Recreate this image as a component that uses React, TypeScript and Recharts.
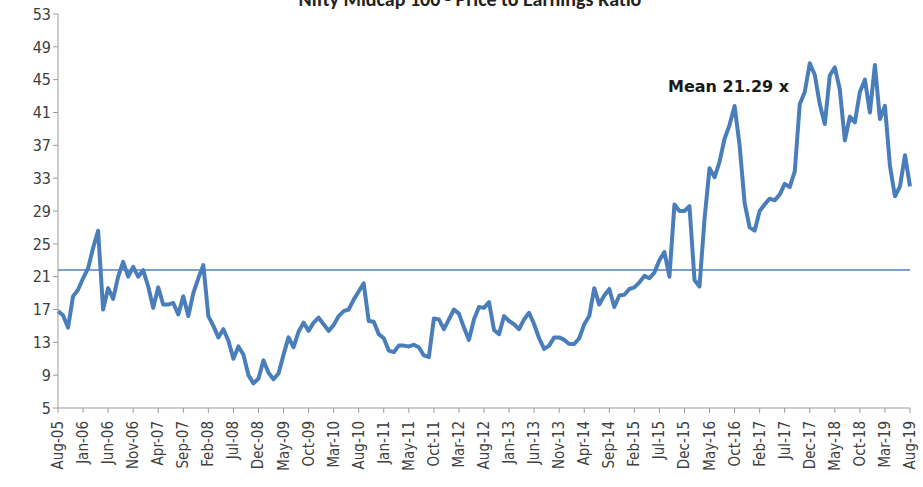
import { Line, LineChart, ReferenceLine, XAxis, YAxis } from "recharts";

// tick labels on the category axis, one every 5 points
const monthLabels = [
  "Aug-05", "Jan-06", "Jun-06", "Nov-06", "Apr-07", "Sep-07", "Feb-08", "Jul-08",
  "Dec-08", "May-09", "Oct-09", "Mar-10", "Aug-10", "Jan-11", "May-11", "Oct-11",
  "Mar-12", "Aug-12", "Jan-13", "Jun-13", "Nov-13", "Apr-14", "Sep-14", "Feb-15",
  "Jul-15", "Dec-15", "May-16", "Oct-16", "Feb-17", "Jul-17", "Dec-17", "May-18",
  "Oct-18", "Mar-19", "Aug-19",
];

// P/E values, evenly spaced between the month ticks
const peValues = [
  16.8, 16.3, 14.8, 18.6, 19.4, 20.8, 22.0, 24.5, 26.6, 17.0,
  19.6, 18.3, 21.0, 22.8, 21.0, 22.2, 21.0, 21.8, 19.8, 17.2,
  19.7, 17.6, 17.6, 17.8, 16.4, 18.6, 16.2, 19.0, 20.8, 22.4,
  16.2, 15.0, 13.6, 14.6, 13.2, 11.0, 12.5, 11.5, 9.0, 8.0,
  8.6, 10.8, 9.3, 8.5, 9.2, 11.5, 13.6, 12.4, 14.3, 15.4,
  14.4, 15.4, 16.0, 15.2, 14.4, 15.1, 16.2, 16.8, 17.0, 18.2,
  19.2, 20.2, 15.6, 15.5, 14.0, 13.5, 12.0, 11.8, 12.6, 12.6,
  12.5, 12.7, 12.4, 11.4, 11.2, 15.9, 15.8, 14.6, 15.8, 17.0,
  16.5, 14.8, 13.3, 15.8, 17.3, 17.2, 17.9, 14.5, 14.0, 16.2,
  15.6, 15.2, 14.6, 15.8, 16.6, 15.2, 13.5, 12.2, 12.6, 13.6,
  13.6, 13.3, 12.8, 12.8, 13.5, 15.2, 16.2, 19.6, 17.6, 18.7,
  19.5, 17.3, 18.7, 18.8, 19.5, 19.7, 20.3, 21.1, 20.8, 21.5,
  23.0, 24.0, 21.0, 29.8, 29.0, 29.0, 29.6, 20.6, 19.8, 28.0,
  34.2, 33.1, 35.0, 37.8, 39.5, 41.8, 37.0, 30.0, 27.0, 26.6,
  29.0, 29.8, 30.5, 30.3, 31.0, 32.3, 31.9, 33.8, 42.0, 43.5,
  47.0, 45.6, 42.0, 39.6, 45.5, 46.5, 43.8, 37.6, 40.5, 39.8,
  43.5, 45.0, 41.0, 46.8, 40.2, 41.8, 34.5, 30.8, 32.0, 35.8,
  32.0,
];

const yTicks = [5, 9, 13, 17, 21, 25, 29, 33, 37, 41, 45, 49, 53];
const meanLevel = 21.8;
const meanText = "Mean 21.29 x";
const title = "Nifty Midcap 100 - Price to Earnings Ratio";

const STEP = 5;
const data = peValues.map((pe, i) => ({ i, pe }));
const xTicks = monthLabels.map((_, k) => k * STEP);

const axisFont = "'Liberation Sans Narrow', 'DejaVu Sans Condensed', sans-serif";

function MonthTick(props: any) {
  const { x, y, payload } = props;
  const label = monthLabels[Math.round(payload.value / STEP)] ?? "";
  return (
    <text
      x={x}
      y={y + 6}
      transform={`rotate(-90, ${x}, ${y + 6})`}
      textAnchor="end"
      dominantBaseline="central"
      fill="#404040"
      fontSize={15}
      fontFamily={axisFont}
    >
      {label}
    </text>
  );
}

export default function App() {
  return (
    <div
      style={{
        position: "absolute",
        left: 0,
        top: 0,
        width: 923,
        height: 487,
        background: "#fff",
        overflow: "hidden",
      }}
    >
      <div
        style={{
          position: "absolute",
          top: -13,
          left: 0,
          width: 940,
          textAlign: "center",
          fontFamily: "Calibri, 'Liberation Sans', sans-serif",
          fontWeight: 700,
          fontSize: 20,
          color: "#222",
        }}
      >
        {title}
      </div>
      <LineChart
        width={923}
        height={487}
        data={data}
        margin={{ top: 14, right: 13, bottom: 0, left: 0 }}
      >
        <XAxis
          dataKey="i"
          type="number"
          domain={[0, peValues.length - 1]}
          ticks={xTicks}
          interval={0}
          height={79}
          tick={<MonthTick />}
          stroke="#9a9a9a"
          tickSize={5}
        />
        <YAxis
          domain={[5, 53]}
          ticks={yTicks}
          interval={0}
          width={58}
          stroke="#9a9a9a"
          tickSize={5}
          tick={{ fill: "#404040", fontSize: 16, fontFamily: axisFont }}
        />
        <ReferenceLine y={meanLevel} stroke="#4f81bd" strokeWidth={1.5} ifOverflow="extendDomain" />
        <Line
          type="linear"
          dataKey="pe"
          stroke="#4a7ebb"
          strokeWidth={4}
          strokeLinejoin="round"
          dot={false}
          isAnimationActive={false}
        />
      </LineChart>
      <div
        style={{
          position: "absolute",
          left: 668,
          top: 77,
          fontFamily: "'DejaVu Sans', Verdana, sans-serif",
          fontWeight: 700,
          fontSize: 16,
          color: "#1a1a1a",
          whiteSpace: "nowrap",
        }}
      >
        {meanText}
      </div>
    </div>
  );
}
